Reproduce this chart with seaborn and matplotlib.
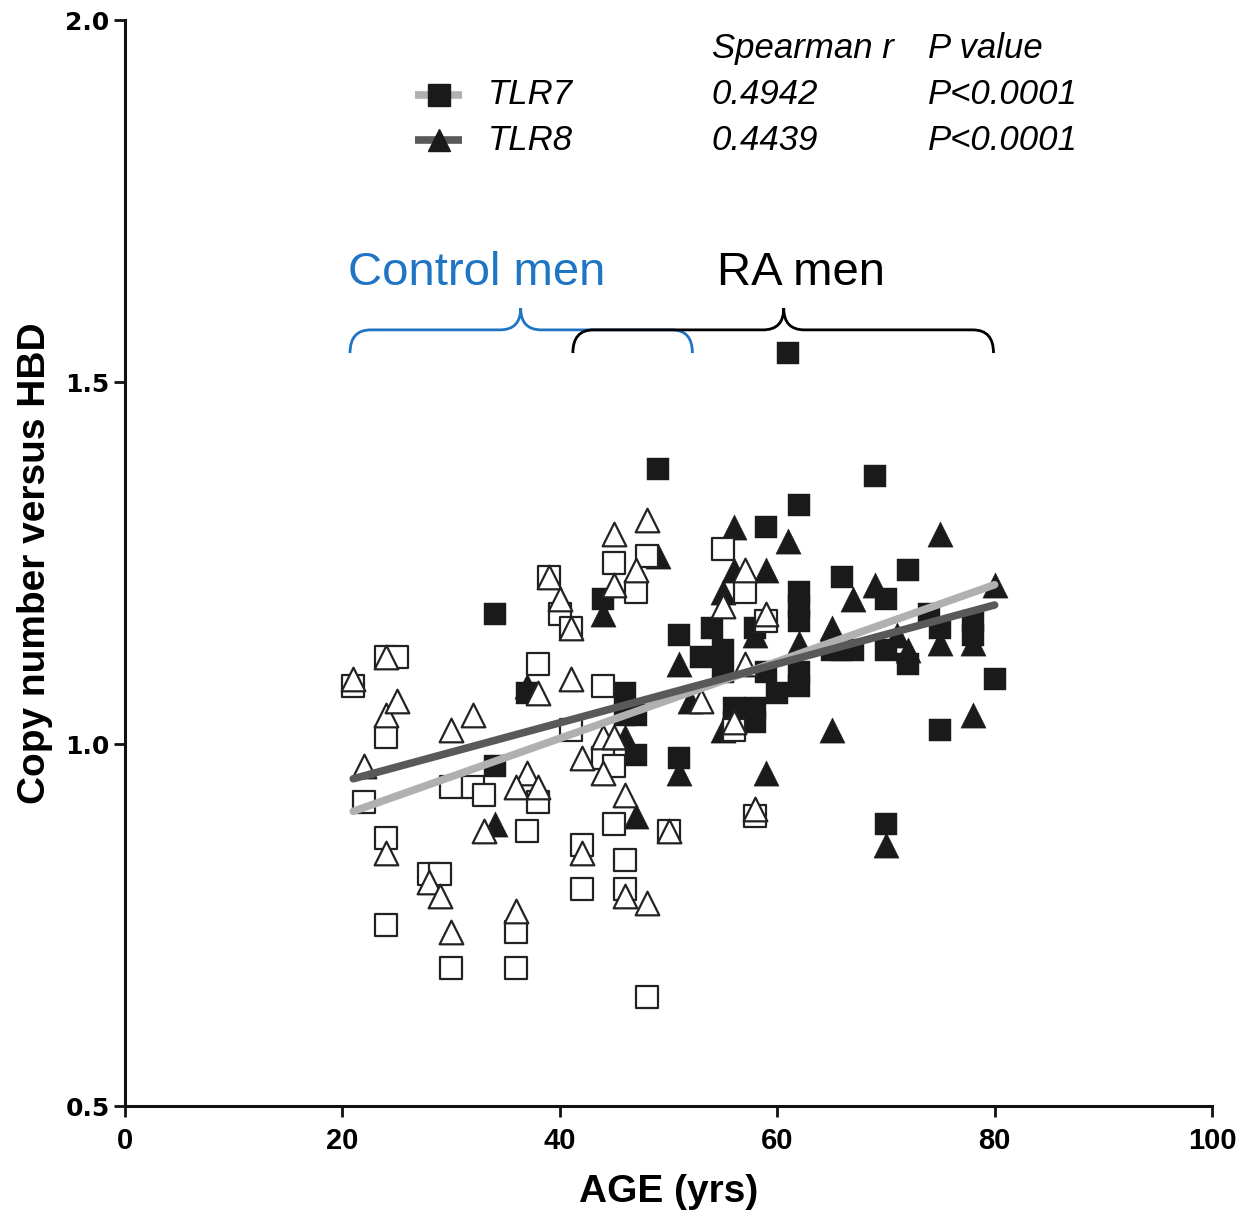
import numpy as np
import pandas as pd
import matplotlib
matplotlib.use("Agg")
import matplotlib.pyplot as plt
from matplotlib.path import Path
from matplotlib.patches import PathPatch
import seaborn as sns

# ---------------- data ----------------
ctrl_tlr7_age = [21, 24, 25, 24, 22, 24, 24, 28, 29, 30, 30, 32, 33, 36, 36, 37, 38, 38,
                 39, 40, 41, 41, 42, 42, 44, 44, 45, 45, 45, 46, 46, 47, 48, 48, 50, 55,
                 57, 59, 56, 58]
ctrl_tlr7_val = [1.08, 1.12, 1.12, 1.01, 0.92, 0.87, 0.75, 0.82, 0.82, 0.69, 0.94, 0.94,
                 0.93, 0.74, 0.69, 0.88, 0.92, 1.11, 1.23, 1.18, 1.16, 1.02, 0.86, 0.80,
                 1.08, 0.98, 1.25, 0.97, 0.89, 0.84, 0.80, 1.21, 1.26, 0.65, 0.88, 1.27,
                 1.21, 1.17, 1.02, 0.90]

ctrl_tlr8_age = [21, 22, 24, 24, 25, 24, 28, 29, 30, 30, 32, 33, 36, 37, 36, 38, 38, 39,
                 40, 41, 41, 42, 44, 45, 44, 46, 42, 46, 48, 45, 48, 47, 45, 50, 55, 57,
                 59, 57, 53, 56, 58]
ctrl_tlr8_val = [1.09, 0.97, 1.12, 1.04, 1.06, 0.85, 0.81, 0.79, 0.74, 1.02, 1.04, 0.88,
                 0.77, 0.96, 0.94, 0.94, 1.07, 1.23, 1.20, 1.16, 1.09, 0.98, 1.01, 1.01,
                 0.96, 0.93, 0.85, 0.79, 0.78, 1.29, 1.31, 1.24, 1.22, 0.88, 1.19, 1.24,
                 1.18, 1.11, 1.06, 1.03, 0.91]

ra_tlr7_age = [34, 37, 34, 44, 46, 46, 47, 47, 49, 51, 51, 53, 54, 55, 55, 56, 56, 58,
               58, 58, 59, 59, 60, 61, 62, 62, 62, 62, 62, 62, 65, 66, 66, 67, 69, 70,
               70, 70, 72, 72, 74, 75, 75, 78, 78, 80]
ra_tlr7_val = [1.18, 1.07, 0.97, 1.20, 1.07, 1.04, 1.04, 0.985, 1.38, 1.15, 0.98, 1.12,
               1.16, 1.13, 1.10, 1.05, 1.03, 1.05, 1.03, 1.16, 1.30, 1.10, 1.07, 1.54,
               1.33, 1.21, 1.19, 1.17, 1.10, 1.08, 1.13, 1.13, 1.23, 1.13, 1.37, 1.20,
               1.13, 0.89, 1.24, 1.11, 1.18, 1.16, 1.02, 1.17, 1.15, 1.09]

ra_tlr8_age = [34, 37, 44, 46, 47, 49, 51, 51, 52, 55, 55, 56, 56, 58, 59, 59, 61, 62,
               65, 65, 67, 69, 70, 71, 72, 75, 75, 78, 78, 80]
ra_tlr8_val = [0.89, 1.08, 1.18, 1.01, 0.90, 1.26, 1.11, 0.96, 1.06, 1.21, 1.02, 1.30,
               1.24, 1.15, 1.24, 0.96, 1.28, 1.14, 1.16, 1.02, 1.20, 1.22, 0.86, 1.15,
               1.13, 1.29, 1.14, 1.14, 1.04, 1.22]

# regression lines as drawn in the figure
fit_age = [21, 80]
fit_tlr7 = [0.907, 1.220]
fit_tlr8 = [0.952, 1.192]

genes = ["TLR7", "TLR8"]
spearman_r = ["0.4942", "0.4439"]
p_values = ["P<0.0001", "P<0.0001"]
group_labels = ["Control men", "RA men"]

x_ticks = [0, 20, 40, 60, 80, 100]
y_ticks = [0.5, 1.0, 1.5, 2.0]

# ---------------- styling ----------------
sns.set_style("ticks")
plt.rcParams["font.family"] = ["Liberation Sans", "DejaVu Sans"]
plt.rcParams["text.color"] = "black"
plt.rcParams["axes.labelcolor"] = "black"
plt.rcParams["xtick.color"] = "black"
plt.rcParams["ytick.color"] = "black"

FILL = "#1a1a1a"
LIGHT = "#b0b0b0"
DARK = "#595959"
BLUE = "#1f75c4"

fig = plt.figure(figsize=(12.43, 12.12), dpi=100)
ax = fig.add_axes([125 / 1243, 1 - 1106 / 1212, 1087 / 1243, 1086 / 1212])

# filled RA markers
sns.scatterplot(x=ra_tlr7_age, y=ra_tlr7_val, marker="s", s=265, color=FILL,
                edgecolor=FILL, linewidth=0.3, ax=ax, zorder=2, legend=False)
sns.scatterplot(x=ra_tlr8_age, y=ra_tlr8_val, marker="^", s=330, color=FILL,
                edgecolor=FILL, linewidth=0.3, ax=ax, zorder=2, legend=False)
# open control markers
sns.scatterplot(x=ctrl_tlr7_age, y=ctrl_tlr7_val, marker="s", s=230, facecolor="white",
                edgecolor="#222222", linewidth=1.6, ax=ax, zorder=3, legend=False)
sns.scatterplot(x=ctrl_tlr8_age, y=ctrl_tlr8_val, marker="^", s=290, facecolor="white",
                edgecolor="#222222", linewidth=1.6, ax=ax, zorder=3, legend=False)

# regression lines
sns.lineplot(x=fit_age, y=fit_tlr7, color=LIGHT, linewidth=5.5, ax=ax, zorder=4,
             solid_capstyle="round")
sns.lineplot(x=fit_age, y=fit_tlr8, color=DARK, linewidth=5.5, ax=ax, zorder=4,
             solid_capstyle="round")

ax.set_xlim(0, 100)
ax.set_ylim(0.5, 2.0)
ax.set_xticks(x_ticks)
ax.set_xticklabels([str(t) for t in x_ticks], fontsize=21, fontweight="bold")
ax.set_yticks(y_ticks)
ax.set_yticklabels([f"{t:.1f}" for t in y_ticks], fontsize=18, fontweight="bold",
                   family="DejaVu Sans")
for s in ["top", "right"]:
    ax.spines[s].set_visible(False)
for s in ["left", "bottom"]:
    ax.spines[s].set_linewidth(2.2)
    ax.spines[s].set_color("#111111")
ax.tick_params(direction="out", length=8, width=2, color="#111111")
ax.tick_params(axis="x", pad=7)
ax.tick_params(axis="y", pad=3)
ax.set_xlabel("AGE (yrs)", fontsize=28, fontweight="bold", labelpad=14)
ax.set_ylabel("Copy number versus HBD", fontsize=28, fontweight="bold", labelpad=9)

# legend / statistics block
leg_y = [1.897, 1.834]
leg_markers = ["s", "^"]
leg_lines = [LIGHT, DARK]
ax.text(54.0, 1.960, "Spearman r", fontsize=25, style="italic", va="center", ha="left")
ax.text(73.9, 1.960, "P value", fontsize=25, style="italic", va="center", ha="left")
for i, g in enumerate(genes):
    ax.plot([26.7, 31.0], [leg_y[i], leg_y[i]], color=leg_lines[i], linewidth=5.5,
            solid_capstyle="butt", clip_on=False)
    ax.plot([28.85], [leg_y[i]], marker=leg_markers[i], markersize=16, color=FILL,
            clip_on=False)
    ax.text(33.4, leg_y[i], g, fontsize=25, style="italic", va="center", ha="left")
    ax.text(54.0, leg_y[i], spearman_r[i], fontsize=25, style="italic", va="center", ha="left")
    ax.text(73.9, leg_y[i], p_values[i], fontsize=25, style="italic", va="center", ha="left")

# group labels and braces
ax.text(20.5, 1.650, group_labels[0], fontsize=34, color=BLUE, va="center", ha="left")
ax.text(54.5, 1.650, group_labels[1], fontsize=34, color="black", va="center", ha="left")


def brace(x0, x1, xm, yb, yh, yt, color):
    r = 1.9
    verts = [(x0, yb), (x0, yh), (x0 + r, yh), (xm - r, yh), (xm, yh), (xm, yt),
             (xm, yh), (xm + r, yh), (x1 - r, yh), (x1, yh), (x1, yb)]
    codes = [Path.MOVETO, Path.CURVE3, Path.CURVE3, Path.LINETO, Path.CURVE3, Path.CURVE3,
             Path.CURVE3, Path.CURVE3, Path.LINETO, Path.CURVE3, Path.CURVE3]
    ax.add_patch(PathPatch(Path(verts, codes), facecolor="none", edgecolor=color,
                           linewidth=2.0, zorder=5))


brace(20.7, 52.2, 36.4, 1.540, 1.572, 1.602, BLUE)
brace(41.2, 79.9, 60.6, 1.540, 1.572, 1.602, "black")

fig.savefig("out.png", dpi=100)
